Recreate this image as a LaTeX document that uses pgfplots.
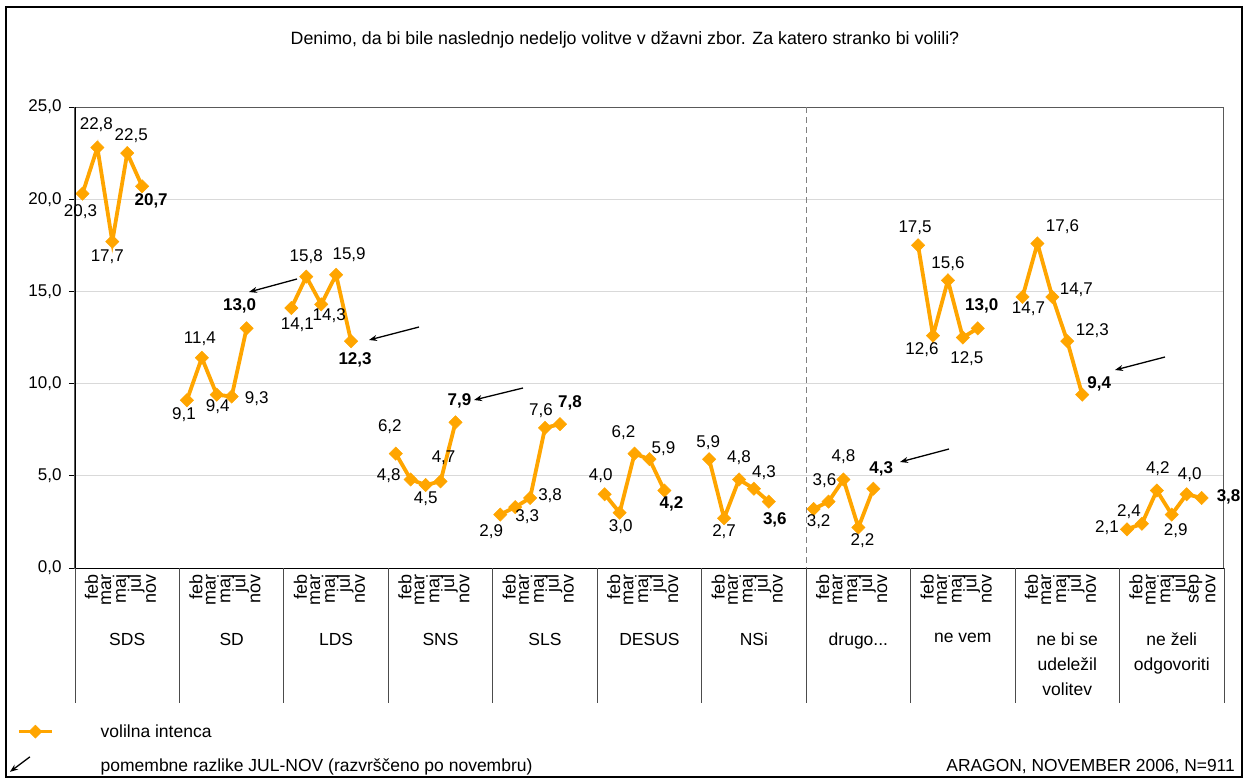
\documentclass[border=0pt]{standalone}
\usepackage{pgfplots}
\pgfplotsset{compat=1.18}
\usepackage{pgfplotstable}
\usepackage{fontspec}
\setmainfont{Liberation Sans}
\usetikzlibrary{arrows.meta}
\definecolor{vorange}{HTML}{FFA500}
\definecolor{gridgray}{HTML}{D9D9D9}

% x = slot (7 per group), y = value, dx/u = label offset (px, right/up), b = bold
\pgfplotstableread{
x y dx u b
0 20.3 -2 -18 0
1 22.8 -1 23 0
2 17.7 -5 -15 0
3 22.5 4 17 0
4 20.7 9 -15 1
5 nan 0 0 0
7 9.1 -3 -14 0
8 11.4 -2 19 0
9 9.4 1 -12 0
10 9.3 25 -2 0
11 13.0 -7 22 1
12 nan 0 0 0
14 14.1 6 -17 0
15 15.8 0 20 0
16 14.3 8 -11 0
17 15.9 13 20 0
18 12.3 4 -19 1
19 nan 0 0 0
21 6.2 -6 27 0
22 4.8 -22 4 0
23 4.5 0 -14 0
24 4.7 3 24 0
25 7.9 4 21 1
26 nan 0 0 0
28 2.9 -9 -17 0
29 3.3 12 -9 0
30 3.8 20 2 0
31 7.6 -4 17 0
32 7.8 10 21 1
33 nan 0 0 0
35 4.0 -4 19 0
36 3.0 1 -14 0
37 6.2 -11 21 0
38 5.9 14 11 0
39 4.2 7 -13 1
40 nan 0 0 0
42 5.9 -1 17 0
43 2.7 0 -13 0
44 4.8 0 22 0
45 4.3 10 16 0
46 3.6 6 -18 1
47 nan 0 0 0
49 3.2 5 -13 0
50 3.6 -4 21 0
51 4.8 0 23 0
52 2.2 4 -13 0
53 4.3 8 20 1
54 nan 0 0 0
56 17.5 -3 18 0
57 12.6 -11 -14 0
58 15.6 0 17 0
59 12.5 4 -21 0
60 13.0 4 22 1
61 nan 0 0 0
63 14.7 6 -12 0
64 17.6 25 17 0
65 14.7 24 7 0
66 12.3 25 11 0
67 9.4 17 11 1
68 nan 0 0 0
70 2.1 -20 2 0
71 2.4 -13 12 0
72 4.2 1 22 0
73 2.9 4 -16 0
74 4.0 3 20 0
75 3.8 27 1 1
}\intenca

\newcommand\lblfont[1]{\ifdim#1pt>0.5pt \bfseries\fi}

\begin{document}
\begin{tikzpicture}
\begin{axis}[
    at={(75pt,-568pt)}, anchor=south west,
    scale only axis, width=1149pt, height=461pt,
    xmin=-0.5, xmax=76.5, ymin=0, ymax=25,
    ytick={0,5,...,25}, ytick pos=left,
    xtick={0,1,2,3,4,7,8,9,10,11,14,15,16,17,18,21,22,23,24,25,28,29,30,31,32,35,36,37,38,39,42,43,44,45,46,49,50,51,52,53,56,57,58,59,60,63,64,65,66,67,70,71,72,73,74,75},
    xticklabels={feb,mar,maj,jul,nov,feb,mar,maj,jul,nov,feb,mar,maj,jul,nov,feb,mar,maj,jul,nov,feb,mar,maj,jul,nov,feb,mar,maj,jul,nov,feb,mar,maj,jul,nov,feb,mar,maj,jul,nov,feb,mar,maj,jul,nov,feb,mar,maj,jul,nov,feb,mar,maj,jul,sep,nov},
    xtick style={draw=none},
    ytick style={black, line width=1pt},
    tick align=outside, major tick length=6pt,
    ymajorgrids, grid style={gridgray, line width=1pt},
    axis line style={gray!70!black, line width=1pt},
    tick label style={font=\fontsize{17}{20}\selectfont},
    yticklabel style={xshift=-4pt},
    xticklabel style={rotate=90, anchor=east, inner sep=0pt, yshift=-9pt, font=\fontsize{18}{20}\selectfont},
    /pgf/number format/.cd, use comma, fixed, fixed zerofill, precision=1, assume math mode=true,
    /pgfplots/.cd,
    clip=false,
    unbounded coords=jump,
    legend style={at={(axis description cs:-0.0505,-0.337)}, anchor=north west,
        draw=none, fill=none, font=\fontsize{17.5}{20}\selectfont,
        row sep=18pt, inner sep=0pt, nodes={inner sep=1pt},
        /tikz/every odd column/.append style={column sep=46pt}},
    legend cell align=left,
]
\addlegendimage{legend image code/.code={
    \draw[vorange, line width=3.5pt] (0pt,0pt) -- (33pt,0pt);
    \draw[vorange] plot[mark=square*, mark size=4.6pt, mark options={rotate=45, line width=0.5pt}] coordinates {(16.5pt,0pt)};}}
\addlegendentry{volilna intenca}
\addlegendimage{legend image code/.code={\path (0pt,0pt) (33pt,0pt);
    \draw[black, line width=1.3pt, -{Stealth[length=8pt,width=6pt]}, overlay] (11pt,9pt) -- (-9pt,-6pt);}}
\addlegendentry{pomembne razlike JUL-NOV (razvrščeno po novembru)}
\addplot[vorange, line width=3.8pt, mark=square*, mark size=4.7pt,
    mark options={rotate=45, solid, line width=0.5pt},
    forget plot,
    point meta=y,
    visualization depends on={\thisrow{dx}\as\mydx},
    visualization depends on={\thisrow{u}\as\myu},
    visualization depends on={\thisrow{b}\as\myb},
    nodes near coords={\lblfont{\myb}\pgfmathprintnumber{\pgfplotspointmeta}},
    every node near coord/.append style={anchor=center, text=black, inner sep=0pt,
        font=\fontsize{17}{20}\selectfont, xshift=\mydx pt, yshift=\myu pt},
] table[x=x, y=y] {\intenca};
\end{axis}

% decorations in pixel coordinates (origin top-left, y down)
\begin{scope}[x=1pt, y=-1pt]
  \draw[black, line width=1.5pt] (6,7) rectangle (1242,777);
  \node[font=\fontsize{17.8}{21}\selectfont] at (625,40) {Denimo, da bi bile naslednjo nedeljo volitve v džavni zbor. Za katero stranko bi volili?};
  \draw[black, line width=1pt] (75,107) -- (75,568) -- (1224,568);
  \draw[gray, line width=1pt, dash pattern=on 6pt off 4pt] (806,107) -- (806,568);
  \foreach \g in {0,...,11} {
    \draw[gray!60!black, line width=1pt] (75+104.4545*\g,568) -- ++(0,135);
  }
  \foreach \lab [count=\g from 0] in {SDS,SD,LDS,SNS,SLS,DESUS,NSi,{drugo{.}{.}{.}},ne vem,{ne bi se\\udeležil\\volitev},{ne želi\\odgovoriti}} {
    \node[anchor=north, align=center, font=\fontsize{17.5}{25}\selectfont, inner sep=0pt]
      at (75+104.4545*\g+52.2,633) {\lab};
  }
  \foreach \a/\b/\c/\d in {297/279/249/292, 419/327/369/340, 523/388/474/400, 949/449/900/462, 1165/357/1115/370} {
    \draw[black, line width=1.3pt, -{Stealth[length=8pt,width=6pt]}] (\a,\b) -- (\c,\d);
  }
  \node[anchor=east, font=\fontsize{17.4}{20}\selectfont, inner sep=0pt] at (1235,767) {ARAGON, NOVEMBER 2006, N=911};
\end{scope}
\pgfresetboundingbox
\useasboundingbox (0pt,0pt) rectangle (1251pt,-780pt);
\end{tikzpicture}
\end{document}
